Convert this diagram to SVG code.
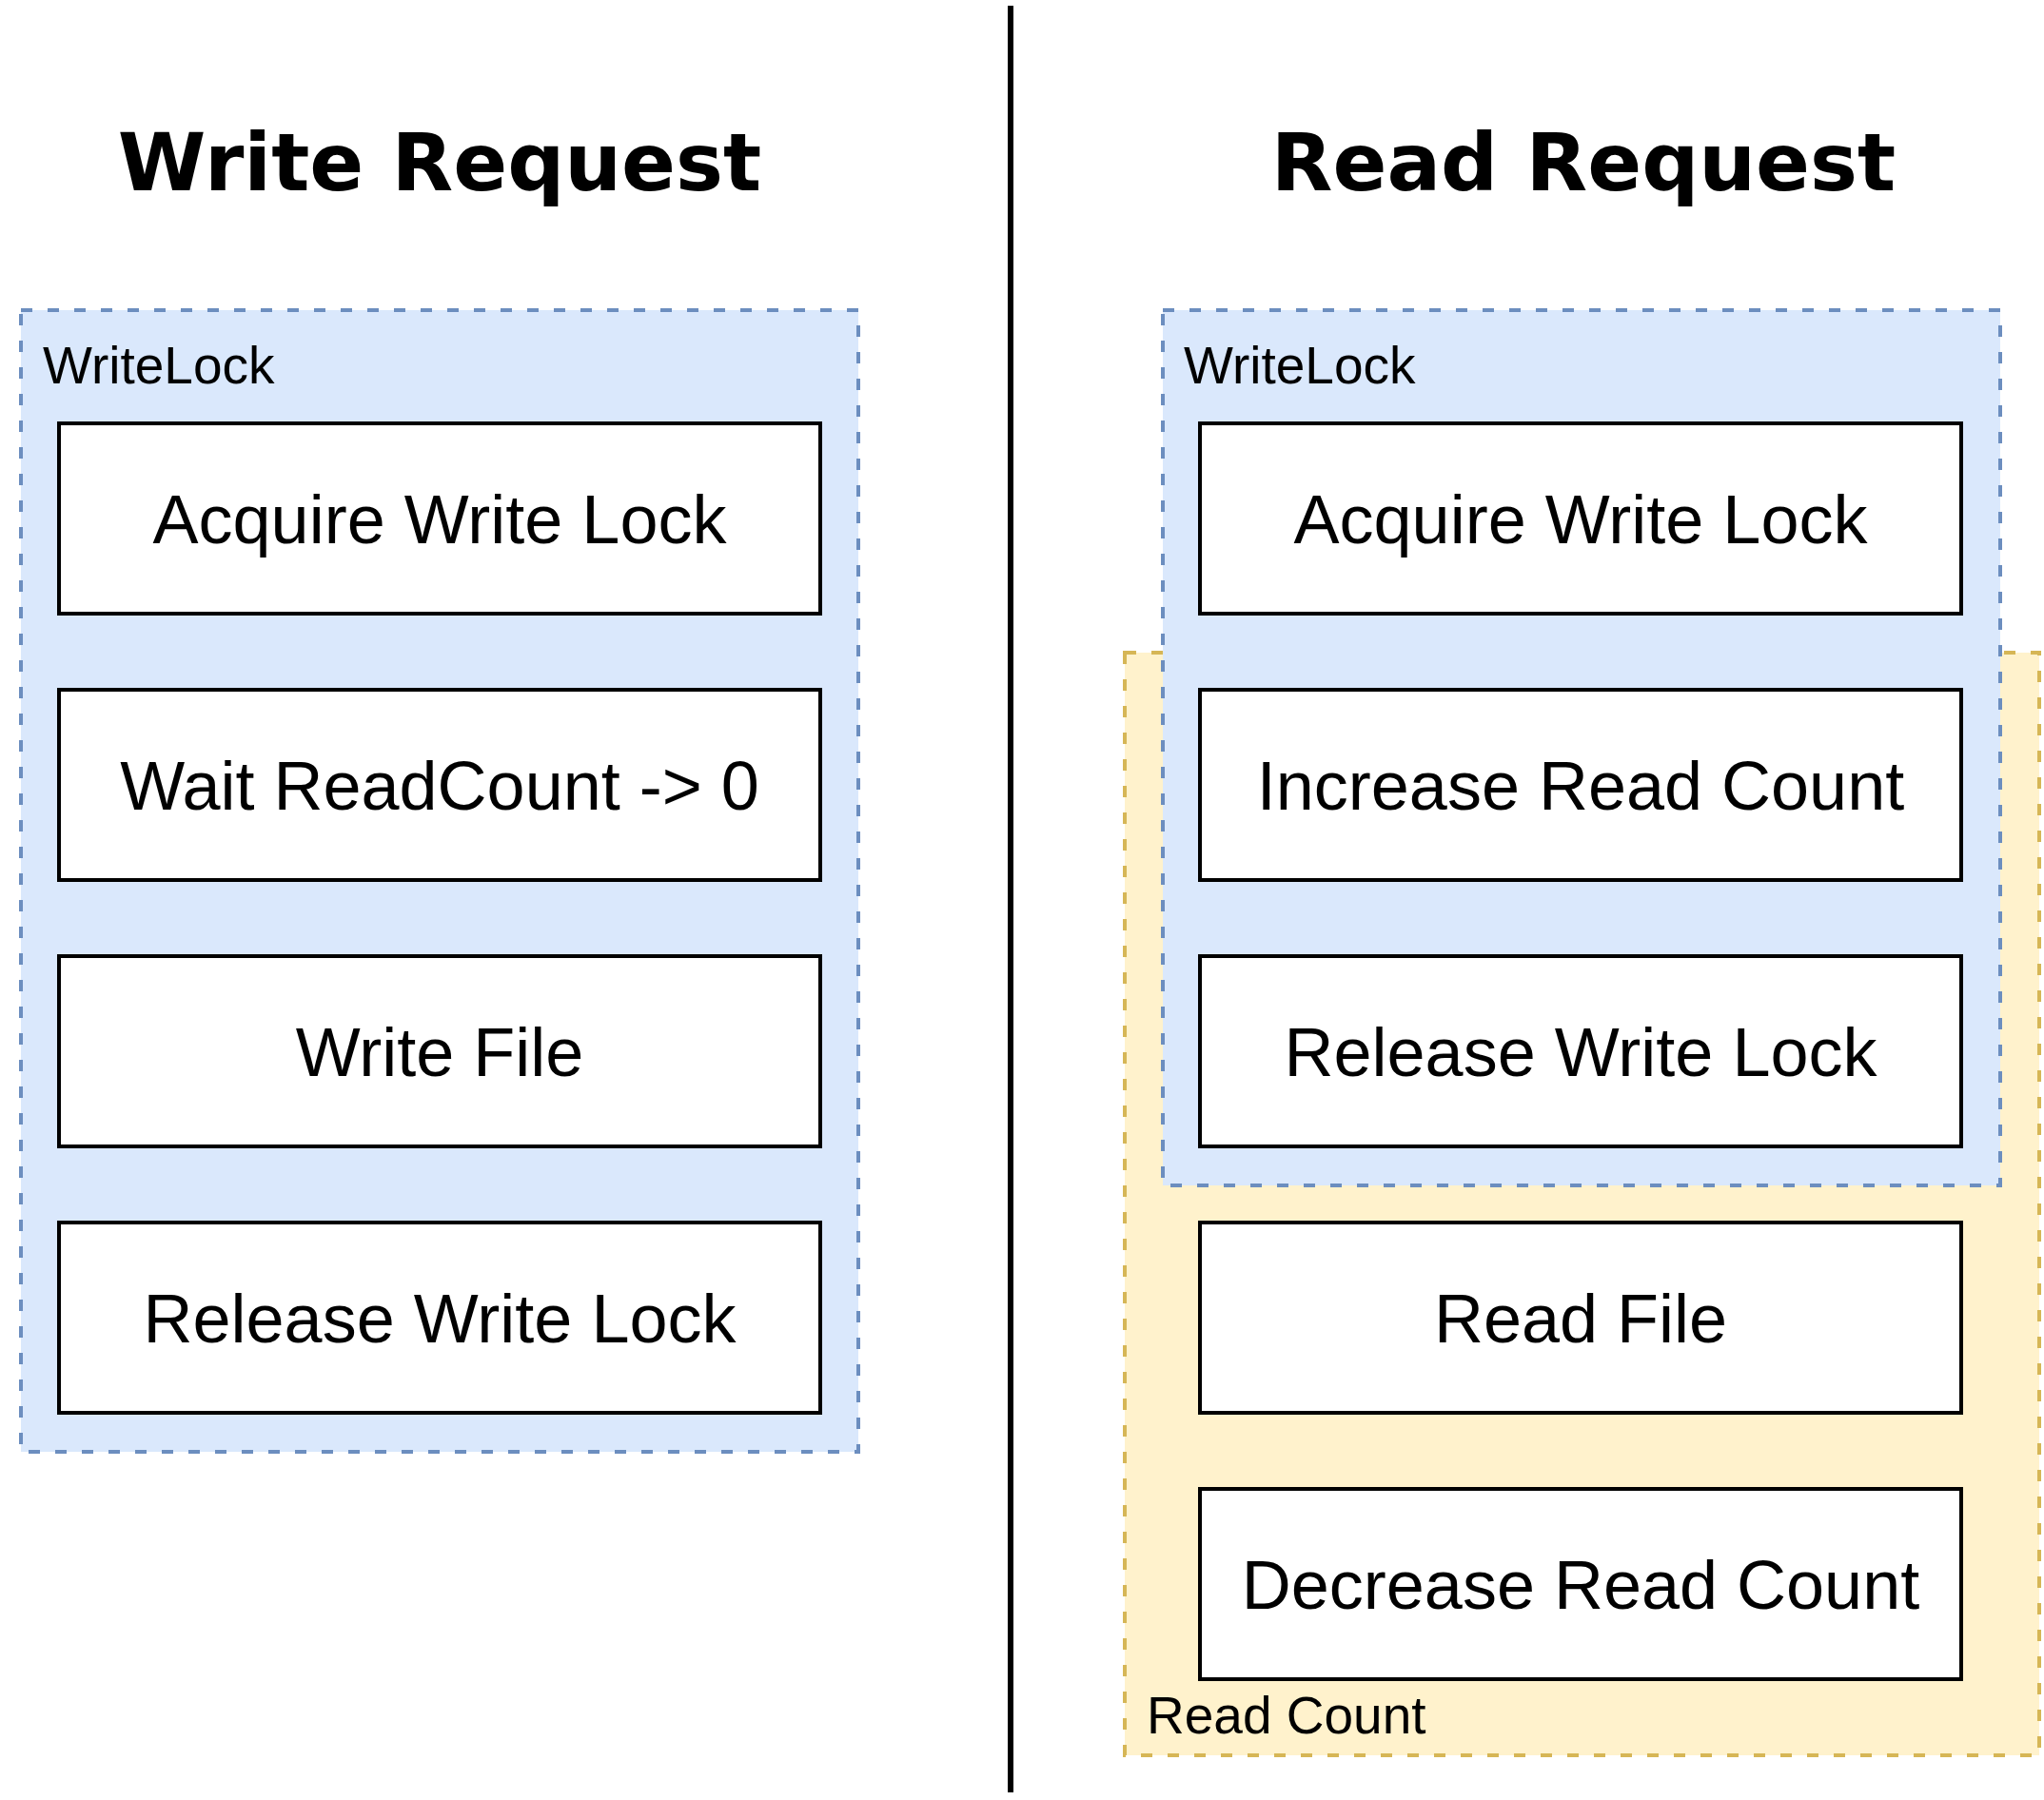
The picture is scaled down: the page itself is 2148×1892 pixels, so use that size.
<svg xmlns="http://www.w3.org/2000/svg" width="2148" height="1892" viewBox="0 0 2148 1892">
  <style>
    .title { font-family: "DejaVu Sans", Verdana, sans-serif; font-weight: bold; font-size: 84px; fill: #000; text-anchor: middle; }
    .blue { fill: #dae8fc; stroke: #6c8ebf; stroke-width: 4; stroke-dasharray: 12 16; }
    .yellow { fill: #fff2cc; stroke: #d6b656; stroke-width: 4; stroke-dasharray: 12 16; }
    .clabel { font-family: "Liberation Sans", Arial, Helvetica, sans-serif; font-size: 55px; fill: #000; }
    .box { fill: #ffffff; stroke: #000000; stroke-width: 4; }
    .label { font-family: "Liberation Sans", Arial, Helvetica, sans-serif; font-size: 72px; fill: #000; text-anchor: middle; }
  </style>
  <rect width="2148" height="1892" fill="#ffffff"/>

  <g id="titles">
    <text class="title" x="462" y="200">Write Request</text>
    <text class="title" x="1664" y="200">Read Request</text>
  </g>

  <g id="divider">
    <line x1="1062" y1="6" x2="1062" y2="1884" stroke="#000" stroke-width="6"/>
  </g>

  <g id="read-count-group">
    <rect class="yellow" x="1182" y="686" width="961" height="1159"/>
    <text class="clabel" x="1205" y="1822">Read Count</text>
  </g>

  <g id="writelock-left">
    <rect class="blue" x="22" y="326" width="880" height="1200"/>
    <text class="clabel" x="45" y="403">WriteLock</text>
  </g>

  <g id="writelock-right">
    <rect class="blue" x="1222" y="326" width="880" height="920"/>
    <text class="clabel" x="1244" y="403">WriteLock</text>
  </g>

  <g id="w-acquire"><rect class="box" x="62" y="445" width="800" height="200"/><text class="label" x="462" y="571">Acquire Write Lock</text></g>
  <g id="w-wait"><rect class="box" x="62" y="725" width="800" height="200"/><text class="label" x="462" y="851">Wait ReadCount -&gt; 0</text></g>
  <g id="w-write"><rect class="box" x="62" y="1005" width="800" height="200"/><text class="label" x="462" y="1131">Write File</text></g>
  <g id="w-release"><rect class="box" x="62" y="1285" width="800" height="200"/><text class="label" x="462" y="1411">Release Write Lock</text></g>

  <g id="r-acquire"><rect class="box" x="1261" y="445" width="800" height="200"/><text class="label" x="1661" y="571">Acquire Write Lock</text></g>
  <g id="r-increase"><rect class="box" x="1261" y="725" width="800" height="200"/><text class="label" x="1661" y="851">Increase Read Count</text></g>
  <g id="r-release"><rect class="box" x="1261" y="1005" width="800" height="200"/><text class="label" x="1661" y="1131">Release Write Lock</text></g>
  <g id="r-read"><rect class="box" x="1261" y="1285" width="800" height="200"/><text class="label" x="1661" y="1411">Read File</text></g>
  <g id="r-decrease"><rect class="box" x="1261" y="1565" width="800" height="200"/><text class="label" x="1661" y="1691">Decrease Read Count</text></g>

  <g id="connectors"></g>
</svg>
